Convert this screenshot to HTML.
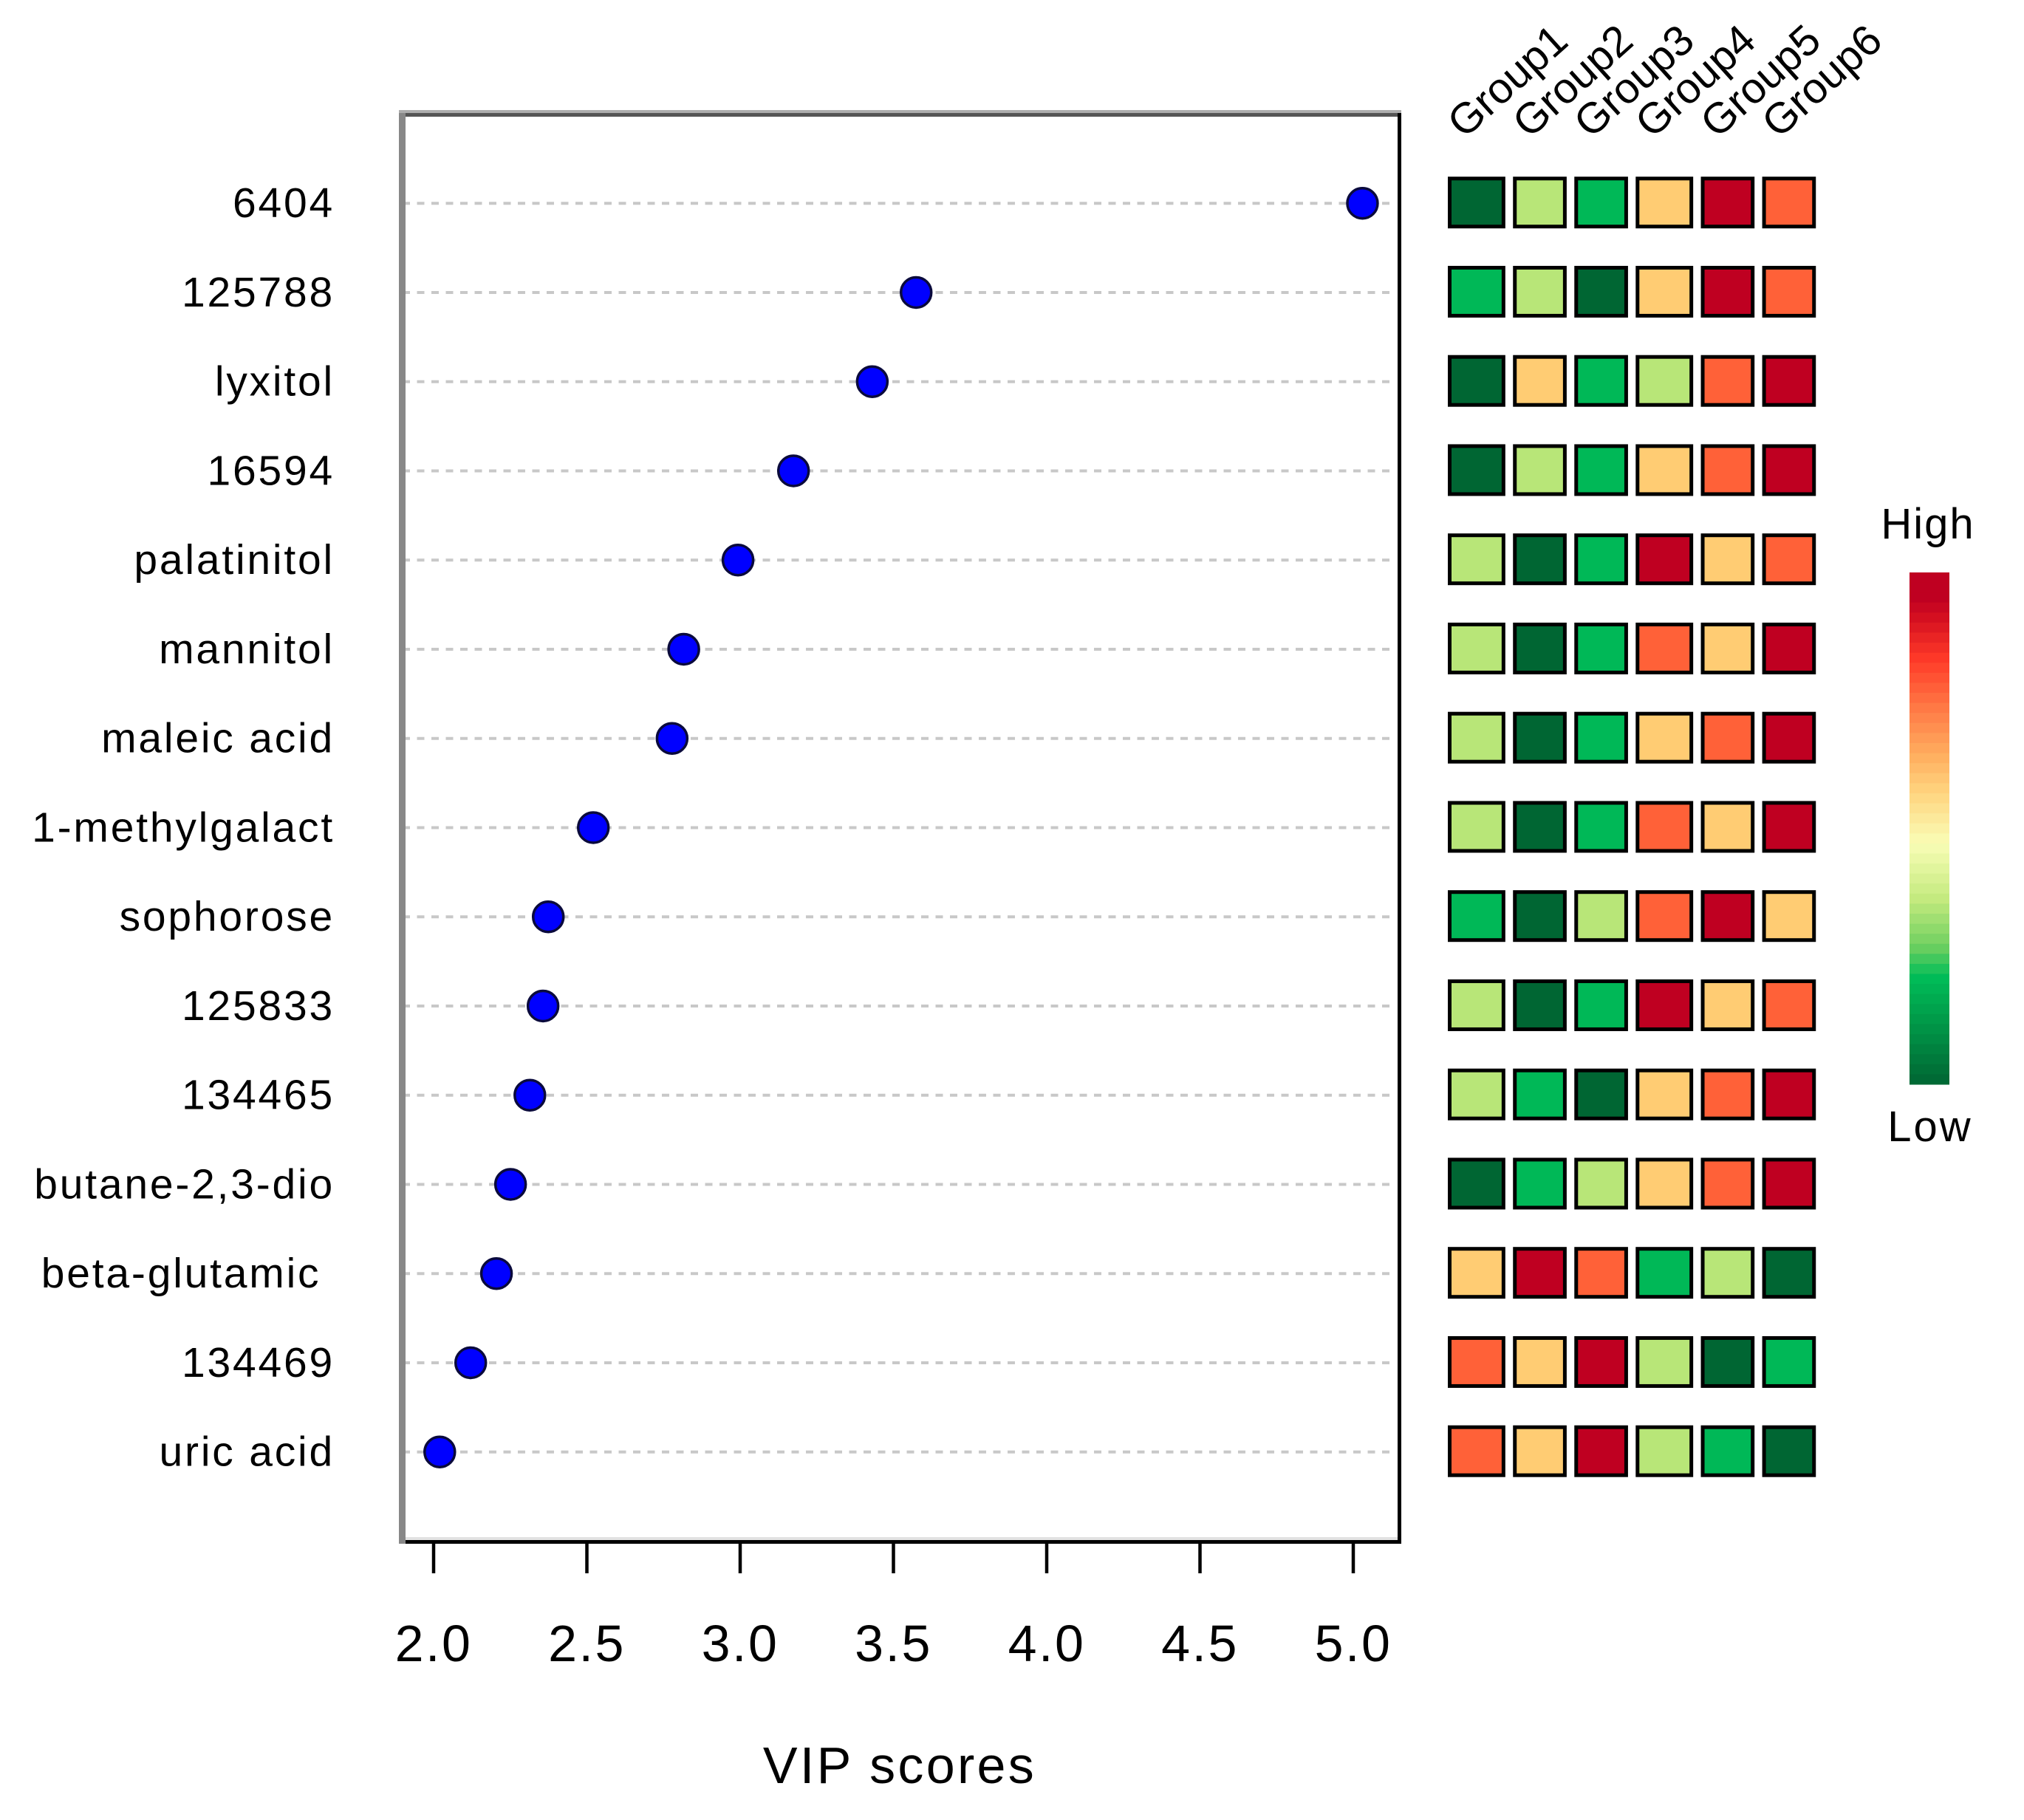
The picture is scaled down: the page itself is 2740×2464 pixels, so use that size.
<!DOCTYPE html>
<html lang="en">
<head>
<meta charset="utf-8">
<title>VIP scores chart</title>
<style>
html,body{margin:0;padding:0;background:#fff;}
svg{display:block;}
text{font-family:"Liberation Sans",sans-serif;fill:#000;white-space:pre;}
</style>
</head>
<body>
<svg id="chart" xmlns="http://www.w3.org/2000/svg" width="2740" height="2464" viewBox="0 0 2740 2464">
  <rect x="0" y="0" width="2740" height="2464" fill="#ffffff"/>
  <g id="gridlines"></g>
  <g>
    <rect x="540" y="149" width="1357" height="4" fill="#adadad"/>
    <rect x="540" y="153" width="1357" height="5" fill="#555555"/>
    <rect x="1892" y="153" width="5" height="1937" fill="#000000"/>
    <rect x="549" y="2081" width="1343" height="4" fill="#e2e2e2"/>
    <rect x="545" y="2085" width="1352" height="5" fill="#000000"/>
    <rect x="540" y="153" width="9" height="1937" fill="#888888"/>
  </g>
  <g id="x-axis"></g>
  <g id="points"></g>
  <g id="row-labels"></g>
  <g id="group-labels"></g>
  <g id="heatmap"></g>
  <g id="colorbar"></g>
  <text x="2610" y="729" font-size="58" text-anchor="middle" letter-spacing="2">High</text>
  <text x="2613" y="1545" font-size="58" text-anchor="middle" letter-spacing="3">Low</text>
  <text x="1218" y="2414" font-size="70" text-anchor="middle" letter-spacing="3.3">VIP scores</text>
</svg>
<script>
const features = ["6404","125788","lyxitol","16594","palatinitol","mannitol","maleic acid","1-methylgalact","sophorose","125833","134465","butane-2,3-dio","beta-glutamic ","134469","uric acid"];
const vipScores = [5.03,3.574,3.431,3.174,2.993,2.816,2.778,2.521,2.374,2.357,2.314,2.251,2.205,2.121,2.02];
const xTicks = [2.0,2.5,3.0,3.5,4.0,4.5,5.0];
const xTickLabels = ["2.0","2.5","3.0","3.5","4.0","4.5","5.0"];
const groups = ["Group1","Group2","Group3","Group4","Group5","Group6"];
const heatLevels = [
  [1,3,2,4,6,5],
  [2,3,1,4,6,5],
  [1,4,2,3,5,6],
  [1,3,2,4,5,6],
  [3,1,2,6,4,5],
  [3,1,2,5,4,6],
  [3,1,2,4,5,6],
  [3,1,2,5,4,6],
  [2,1,3,5,6,4],
  [3,1,2,6,4,5],
  [3,2,1,4,5,6],
  [1,2,3,4,5,6],
  [4,6,5,2,3,1],
  [5,4,6,3,1,2],
  [5,4,6,3,2,1]
];
const levelColors = ["#006633","#00B857","#B8E678","#FFCC73","#FF6138","#BF0021"];
const rampStops = [[0,"#BF0021"],[0.05,"#BF0021"],[0.09,"#D51020"],[0.17,"#FF3A28"],[0.26,"#FF7644"],[0.36,"#FFB060"],[0.43,"#FFD47F"],[0.53,"#F9FDB6"],[0.64,"#C3EA7E"],[0.73,"#70D060"],[0.79,"#00BD58"],[1,"#006633"]];

const NS = "http://www.w3.org/2000/svg";
const PIXEL = 5.19;
function xScale(v){ return 587 + (v - 2) * 415; }
function yScale(i){ return 275.2 + i * 120.75; }
function cellLeft(j){ return 1960 + PIXEL * Math.floor(16.38 * j + 0.65); }
function cellRight(j){ return 1960 + PIXEL * (Math.floor(16.38 * j) + 15); }
function make(parent, tag, attrs){
  const el = document.createElementNS(NS, tag);
  for (const k in attrs) el.setAttribute(k, attrs[k]);
  parent.appendChild(el);
  return el;
}
function hexToRgb(h){ return [1,3,5].map(function(p){ return parseInt(h.substr(p,2),16); }); }
function rampColor(t){
  for (let i = 1; i < rampStops.length; i++){
    if (t <= rampStops[i][0]){
      const a = rampStops[i-1], b = rampStops[i];
      const f = (t - a[0]) / ((b[0] - a[0]) || 1);
      const ca = hexToRgb(a[1]), cb = hexToRgb(b[1]);
      return "rgb(" + ca.map(function(c,n){ return Math.round(c + (cb[n]-c)*f); }).join(",") + ")";
    }
  }
  return rampStops[rampStops.length-1][1];
}

const gridG = document.getElementById("gridlines");
const pointsG = document.getElementById("points");
const labelsG = document.getElementById("row-labels");
const heatG = document.getElementById("heatmap");
features.forEach(function(name, i){
  const y = yScale(i);
  const line = make(gridG, "line", {x1:545, x2:1882, y1:y, y2:y, stroke:"#c8c8c8", "stroke-width":4, "stroke-dasharray":"10 9.5"});
  
  
  const dot = make(pointsG, "circle", {cx:xScale(vipScores[i]), cy:y, r:20.5, fill:"#0000ff", stroke:"#0a0a3c", "stroke-width":3.5});
  
  
  const label = make(labelsG, "text", {x:453, y:y+19, "font-size":57, "text-anchor":"end", "letter-spacing":"2.8"});
  
  
  label.textContent = name;
  heatLevels[i].forEach(function(level, j){
    const left = cellLeft(j);
    const right = cellRight(j);
    const cell = make(heatG, "rect", {x:left+2.5, y:y-33.5, width:right-left-5, height:65, fill:levelColors[level-1], stroke:"#000000", "stroke-width":5});
    
    
  });
});

const axisG = document.getElementById("x-axis");
xTicks.forEach(function(t, i){
  const x = xScale(t);
  const tick = make(axisG, "line", {x1:x, x2:x, y1:2090, y2:2130, stroke:"#000000", "stroke-width":4.5});
  
  
  const lab = make(axisG, "text", {x:x, y:2249, "font-size":70, "text-anchor":"middle", "letter-spacing":"2.5"});
  
  
  lab.textContent = xTickLabels[i];
});

const groupG = document.getElementById("group-labels");
groups.forEach(function(g, j){
  const gx = cellLeft(j) + 22;
  const lab = make(groupG, "text", {x:gx, y:189, "font-size":58, transform:"rotate(-42 " + gx + " 189)"});
  
  
  lab.textContent = g;
});

const barG = document.getElementById("colorbar");
const bandCount = 51;
const barTop = 775, barBottom = 1468;
for (let b = 0; b < bandCount; b++){
  const h = (barBottom - barTop) / bandCount;
  const band = make(barG, "rect", {x:2585, y:barTop + b*h, width:54, height:h+0.5, fill:rampColor((b+0.5)/bandCount)});
  
  
}
</script>
</body>
</html>
